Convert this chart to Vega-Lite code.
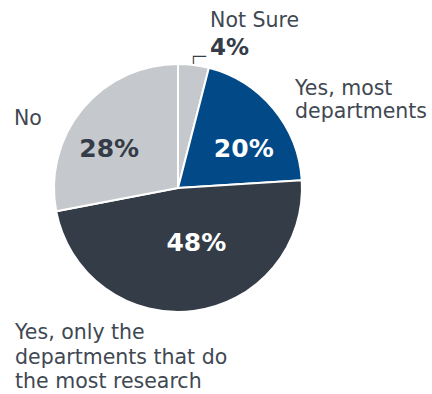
{
  "$schema": "https://vega.github.io/schema/vega-lite/v6.json",
  "width": 248,
  "height": 248,
  "autosize": "none",
  "padding": {"left": 54, "top": 64, "right": 130, "bottom": 82},
  "background": "white",
  "config": {"view": {"stroke": null}, "text": {"font": "DejaVu Sans"}},
  "data": {
    "values": [
      {"cat": "Not Sure", "value": 4, "order": 1, "pct": "4%", "label": "Not Sure"},
      {"cat": "Yes, most departments", "value": 20, "order": 2, "pct": "20%", "label": "Yes, most\ndepartments"},
      {"cat": "Yes, only the departments that do the most research", "value": 48, "order": 3, "pct": "48%", "label": "Yes, only the\ndepartments that do\nthe most research"},
      {"cat": "No", "value": 28, "order": 4, "pct": "28%", "label": "No"}
    ]
  },
  "encoding": {
    "theta": {"field": "value", "type": "quantitative", "stack": true},
    "order": {"field": "order", "type": "quantitative"}
  },
  "layer": [
    {
      "mark": {"type": "text", "radius": 124, "dx": -4.5, "dy": -4, "align": "left", "baseline": "alphabetic", "fontSize": 14, "fill": "#343c47"},
      "encoding": {"text": {"condition": {"test": "datum.order == 1", "value": "┌─"}, "value": ""}}
    },
    {
      "mark": {"type": "arc", "stroke": "white", "strokeWidth": 2},
      "encoding": {
        "color": {
          "field": "cat",
          "type": "nominal",
          "legend": null,
          "scale": {
            "domain": ["Not Sure", "Yes, most departments", "Yes, only the departments that do the most research", "No"],
            "range": ["#c5c8cc", "#024a87", "#343c47", "#c5c8cc"]
          }
        }
      }
    },
    {
      "mark": {"type": "text", "radius": 75, "dx": 8, "dy": 9, "fontSize": 25, "fontWeight": "bold", "fill": "white"},
      "encoding": {"text": {"condition": {"test": "datum.order == 2", "field": "pct"}, "value": ""}}
    },
    {
      "mark": {"type": "text", "radius": 75, "dx": 9, "dy": -19, "fontSize": 25, "fontWeight": "bold", "fill": "white"},
      "encoding": {"text": {"condition": {"test": "datum.order == 3", "field": "pct"}, "value": ""}}
    },
    {
      "mark": {"type": "text", "radius": 75, "dx": -11, "dy": 9, "fontSize": 25, "fontWeight": "bold", "fill": "#333c47"},
      "encoding": {"text": {"condition": {"test": "datum.order == 4", "field": "pct"}, "value": ""}}
    },
    {
      "mark": {"type": "text", "radius": 124, "dx": 16.5, "dy": -38, "align": "left", "baseline": "alphabetic", "fontSize": 20.5, "fill": "#404852"},
      "encoding": {"text": {"condition": {"test": "datum.order == 1", "field": "label"}, "value": ""}}
    },
    {
      "mark": {"type": "text", "radius": 124, "dx": 16.5, "dy": -10, "align": "left", "baseline": "alphabetic", "fontSize": 23, "fontWeight": "bold", "fill": "#343c47"},
      "encoding": {"text": {"condition": {"test": "datum.order == 1", "field": "pct"}, "value": ""}}
    },
    {
      "mark": {"type": "text", "radius": 124, "dx": 21.5, "dy": -14, "align": "left", "baseline": "alphabetic", "fontSize": 20.5, "lineHeight": 23, "lineBreak": "\n", "fill": "#404852"},
      "encoding": {"text": {"condition": {"test": "datum.order == 2", "field": "label"}, "value": ""}}
    },
    {
      "mark": {"type": "text", "radius": 124, "dx": -178.5, "dy": 28, "align": "left", "baseline": "alphabetic", "fontSize": 20.5, "lineHeight": 24.5, "lineBreak": "\n", "fill": "#404852"},
      "encoding": {"text": {"condition": {"test": "datum.order == 3", "field": "label"}, "value": ""}}
    },
    {
      "mark": {"type": "text", "radius": 124, "dx": -68.5, "dy": 16, "align": "left", "baseline": "alphabetic", "fontSize": 20.5, "fill": "#404852"},
      "encoding": {"text": {"condition": {"test": "datum.order == 4", "field": "label"}, "value": ""}}
    }
  ]
}
